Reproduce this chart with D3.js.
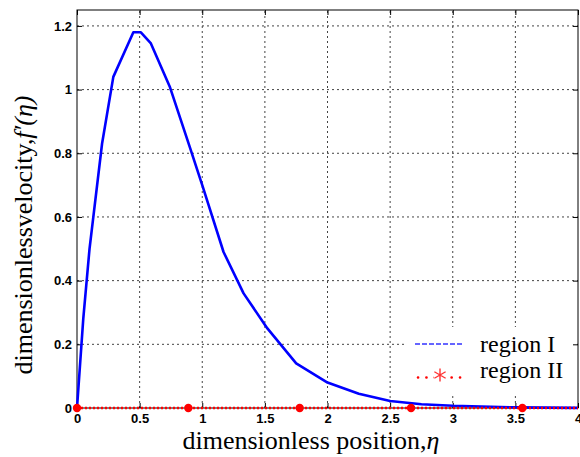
<!DOCTYPE html>
<html>
<head>
<meta charset="utf-8">
<script src="https://cdn.jsdelivr.net/npm/d3@7"></script>
<style>
  body { margin: 0; background: #fff; }
  .tick text { font-family: "Liberation Sans", Arial, sans-serif; font-weight: bold; font-size: 13px; fill: #000; }
</style>
</head>
<body>
<div id="chart"></div>
<script>
// region I : f'(eta)
const etaI = [0, 0.05, 0.1, 0.2, 0.29, 0.45, 0.51, 0.59, 0.74, 0.9, 1.0, 1.17, 1.33, 1.52, 1.75, 2.0, 2.25, 2.5, 2.75, 3.0, 3.5, 4.0];
const velI = [0, 0.28, 0.5, 0.83, 1.04, 1.18, 1.18, 1.145, 1.01, 0.82, 0.7, 0.49, 0.36, 0.25, 0.14, 0.08, 0.045, 0.022, 0.012, 0.007, 0.002, 0.0005];

// region II : flat at zero, markers every 8/9
const etaII = [0, 0.889, 1.778, 2.667, 3.556, 4.0];
const velII = [0, 0, 0, 0, 0, 0];
const markerEta = [0, 0.889, 1.778, 2.667, 3.556];

const xTicks = [0, 0.5, 1, 1.5, 2, 2.5, 3, 3.5, 4];
const xTickLabels = ["0", "0.5", "1", "1.5", "2", "2.5", "3", "3.5", "4"];
const yTicks = [0, 0.2, 0.4, 0.6, 0.8, 1, 1.2];
const yTickLabels = ["0", "0.2", "0.4", "0.6", "0.8", "1", "1.2"];
const legendNames = ["region I", "region II"];

let width = 580, height = 457;
let margin = { top: 10, bottom: 49, left: 77, right: 2 };

let svg = d3.select('#chart')
  .append('svg')
  .attr('width', width)
  .attr('height', height);

let xScale = d3.scaleLinear()
  .domain([0, 4])
  .range([margin.left, width - margin.right]);

let yScale = d3.scaleLinear()
  .domain([0, 1.25])
  .range([height - margin.bottom, margin.top]);

// grid lines
svg.append('g')
  .selectAll('line')
  .data(xTicks.slice(1, -1))
  .enter().append('line')
  .attr('x1', d => xScale(d)).attr('x2', d => xScale(d))
  .attr('y1', yScale(0)).attr('y2', yScale(1.25))
  .attr('stroke', '#444').attr('stroke-width', 1).attr('stroke-dasharray', '2,3');

svg.append('g')
  .selectAll('line')
  .data(yTicks.slice(1))
  .enter().append('line')
  .attr('x1', xScale(0)).attr('x2', xScale(4))
  .attr('y1', d => yScale(d)).attr('y2', d => yScale(d))
  .attr('stroke', '#444').attr('stroke-width', 1).attr('stroke-dasharray', '2,3');

// legend background hides the grid below it
svg.append('rect')
  .attr('x', 405).attr('y', 327)
  .attr('width', 172).attr('height', 68)
  .attr('fill', '#fff');

// axes, ticks inside like matlab
svg.append('g')
  .attr('transform', `translate(${margin.left},0)`)
  .call(d3.axisLeft(yScale).tickValues(yTicks).tickFormat((d, i) => yTickLabels[i]).tickSizeInner(-5).tickSizeOuter(0).tickPadding(5))
  .call(g => g.select('.domain').remove());

svg.append('g')
  .attr('transform', `translate(${width - margin.right},0)`)
  .call(d3.axisRight(yScale).tickValues(yTicks).tickFormat('').tickSizeInner(-5).tickSizeOuter(0))
  .call(g => g.select('.domain').remove());

svg.append('g')
  .attr('transform', `translate(0,${height - margin.bottom})`)
  .call(d3.axisBottom(xScale).tickValues(xTicks).tickFormat((d, i) => xTickLabels[i]).tickSizeInner(-5).tickSizeOuter(0).tickPadding(6))
  .call(g => g.select('.domain').remove());

svg.append('g')
  .attr('transform', `translate(0,${margin.top})`)
  .call(d3.axisTop(xScale).tickValues(xTicks).tickFormat('').tickSizeInner(-5).tickSizeOuter(0))
  .call(g => g.select('.domain').remove());

// frame
svg.append('rect')
  .attr('x', xScale(0)).attr('y', yScale(1.25))
  .attr('width', xScale(4) - xScale(0)).attr('height', yScale(0) - yScale(1.25))
  .attr('fill', 'none').attr('stroke', '#000').attr('stroke-width', 1);

// region I curve
let lineI = d3.line()
  .x((d, i) => xScale(etaI[i]))
  .y(d => yScale(d));

svg.append('path')
  .datum(velI)
  .attr('d', lineI)
  .attr('fill', 'none')
  .attr('stroke', '#0000ff')
  .attr('stroke-width', 2.6)
  .attr('stroke-linejoin', 'round');

// region II dotted red line with markers
let lineII = d3.line()
  .x((d, i) => xScale(etaII[i]))
  .y(d => yScale(d));

svg.append('path')
  .datum(velII)
  .attr('d', lineII)
  .attr('fill', 'none')
  .attr('stroke', '#ff0000')
  .attr('stroke-width', 2.5)
  .attr('stroke-dasharray', '2,2');

svg.selectAll('.mk')
  .data(markerEta)
  .enter().append('circle')
  .attr('class', 'mk')
  .attr('cx', d => xScale(d))
  .attr('cy', yScale(0))
  .attr('r', 4.2)
  .attr('fill', '#ff0000');

// legend
svg.append('line')
  .attr('x1', 415).attr('x2', 462).attr('y1', 344).attr('y2', 344)
  .attr('stroke', '#3333ff').attr('stroke-width', 1.5).attr('stroke-dasharray', '5,2');

svg.append('line')
  .attr('x1', 418).attr('x2', 461).attr('y1', 377.5).attr('y2', 377.5)
  .attr('stroke', '#ff0000').attr('stroke-width', 2.6).attr('stroke-dasharray', '0.1,8.3').attr('stroke-linecap', 'round');

// asterisk marker
let sx = 440, sy = 375, sr = 6.5;
let star = '';
[90, 30, -30].forEach(a => {
  let r = a * Math.PI / 180;
  star += `M${sx - sr * Math.cos(r)},${sy - sr * Math.sin(r)}L${sx + sr * Math.cos(r)},${sy + sr * Math.sin(r)}`;
});
svg.append('rect').attr('x', sx - 6).attr('y', sy - 7).attr('width', 12).attr('height', 14).attr('fill', '#fff');
svg.append('path').attr('d', star).attr('stroke', '#ff3333').attr('stroke-width', 1.4);

svg.selectAll('.lg')
  .data(legendNames)
  .enter().append('text')
  .attr('class', 'lg')
  .attr('x', 480)
  .attr('y', (d, i) => 352 + i * 26)
  .style('font-family', '"Liberation Serif", "Times New Roman", serif')
  .style('font-size', '24px')
  .text(d => d);

// x-axis label
let xl = svg.append('text')
  .attr('x', 311)
  .attr('y', 449)
  .attr('text-anchor', 'middle')
  .style('font-family', '"Liberation Serif", "Times New Roman", serif')
  .style('font-size', '26px');
xl.append('tspan').text('dimensionless position,');
xl.append('tspan').style('font-style', 'italic').text('η');

// y-axis label
let yl = svg.append('text')
  .attr('transform', 'translate(32,235) rotate(-90)')
  .attr('text-anchor', 'middle')
  .style('font-family', '"Liberation Serif", "Times New Roman", serif')
  .style('font-size', '26px');
yl.append('tspan').text('dimensionlessvelocity,');
yl.append('tspan').style('font-style', 'italic').text('f\u2032(η)');
</script>
</body>
</html>
